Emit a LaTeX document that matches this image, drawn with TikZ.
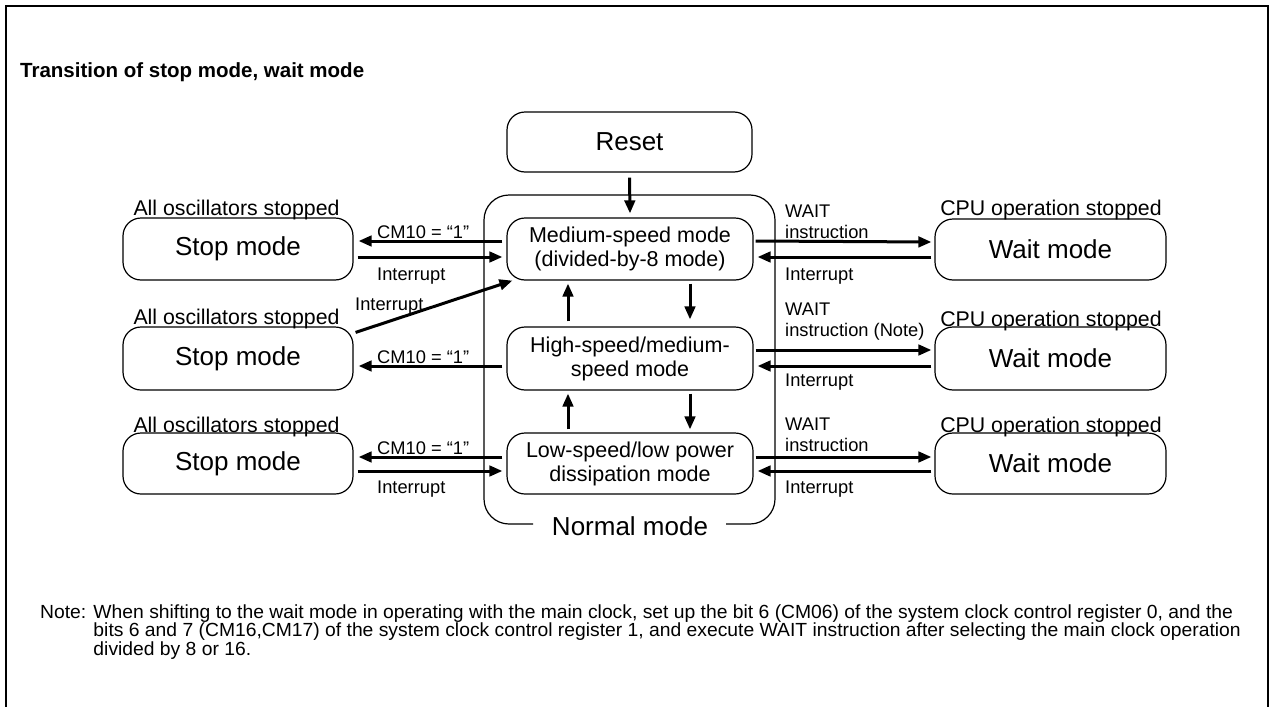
\documentclass[tikz,border=0pt]{standalone}
\usepackage{fontspec}
\setmainfont{Liberation Sans}
\usetikzlibrary{arrows.meta}
\begin{document}
\begin{tikzpicture}[x=1pt,y=-1pt,
  bigbox/.style={draw, line width=1.2pt, rounded corners=18pt, inner sep=0pt,
    font=\fontsize{26}{30}\selectfont},
  modebox/.style={bigbox, align=center, font=\fontsize{21.5}{24}\selectfont,
    minimum width=246pt},
  stopbox/.style={bigbox, minimum width=230pt, minimum height=62pt},
  waitbox/.style={bigbox, minimum width=231pt, minimum height=61pt},
  arr/.style={line width=3pt, -{Triangle[length=13pt,width=10.5pt]}},
  lbl/.style={inner sep=0pt, font=\fontsize{18.3}{20.5}\selectfont, align=left},
  caption/.style={inner sep=0pt, anchor=base, font=\fontsize{21.3}{24}\selectfont}]

% page and frame
\fill[white] (0,0) rectangle (1270,707);
\useasboundingbox (0,0) rectangle (1270,707);
\draw[line width=2pt] (6,707) -- (6,6) -- (1267.5,6) -- (1267.5,707);

% title
\node[anchor=base west, inner sep=0pt, font=\bfseries\fontsize{20.5}{24}\selectfont]
  (title) at (20,77) {Transition of stop mode, wait mode};

% normal-mode frame with its caption in the gap
\draw[line width=1.2pt, rounded corners=25pt]
  (533,524) -- (484,524) -- (484,195) -- (775,195) -- (775,524) -- (726,524);
\node[anchor=base, inner sep=0pt, font=\fontsize{26}{30}\selectfont]
  (normal) at (630,535) {Normal mode};

% central column
\node[bigbox, minimum width=245pt, minimum height=60pt] (reset) at (629.5,142) {Reset};
\node[modebox, minimum height=62pt] (med) at (630,249)
  {Medium-speed mode\\(divided-by-8 mode)};
\node[modebox, minimum height=63pt] (high) at (630,358.5)
  {High-speed/medium-\\speed mode};
\node[modebox, minimum height=61pt] (low) at (630,463.5)
  {Low-speed/low power\\dissipation mode};

% stop modes
\node[stopbox] (stop1) at (238,249) {Stop mode};
\node[stopbox, minimum height=63pt] (stop2) at (238,358.5) {Stop mode};
\node[stopbox, minimum height=61pt] (stop3) at (238,463.5) {Stop mode};
\node[caption] (sc1) at (236.5,215) {All oscillators stopped};
\node[caption] (sc2) at (236.5,324) {All oscillators stopped};
\node[caption] (sc3) at (236.5,432) {All oscillators stopped};

% wait modes
\node[waitbox] (wait1) at (1050.5,249.5) {Wait mode};
\node[waitbox, minimum height=63pt] (wait2) at (1050.5,358.5) {Wait mode};
\node[waitbox] (wait3) at (1050.5,463.5) {Wait mode};
\node[caption] (wc1) at (1051,215) {CPU operation stopped};
\node[caption] (wc2) at (1051,326) {CPU operation stopped};
\node[caption] (wc3) at (1051,432) {CPU operation stopped};

% vertical transitions
\draw[arr] ([yshift=-5pt]reset.south) -- ([yshift=4pt]med.north);
\draw[arr] ([xshift=-62pt,yshift=5pt]high.north) -- ([xshift=-62pt,yshift=-3pt]med.south);
\draw[arr] ([xshift=60pt,yshift=-3pt]med.south) -- ([xshift=60pt,yshift=7pt]high.north);
\draw[arr] ([xshift=-62pt,yshift=3pt]low.north) -- ([xshift=-62pt,yshift=-3pt]high.south);
\draw[arr] ([xshift=60pt,yshift=-3pt]high.south) -- ([xshift=60pt,yshift=3pt]low.north);

% stop transitions
\draw[arr] ([xshift=-4pt,yshift=8pt]med.west) -- ([xshift=5pt,yshift=8pt]stop1.east);
\draw[arr] ([xshift=4pt,yshift=-8pt]stop1.east) -- ([xshift=-4pt,yshift=-8pt]med.west);
\draw[arr] ([xshift=-4pt,yshift=-7.5pt]high.west) -- ([xshift=5pt,yshift=-7.5pt]stop2.east);
\draw[arr] ([xshift=2pt,yshift=-6pt]stop2.north east) -- ([xshift=6pt]med.south west);
\draw[arr] ([xshift=-4pt,yshift=6.5pt]low.west) -- ([xshift=5pt,yshift=6.5pt]stop3.east);
\draw[arr] ([xshift=4pt,yshift=-7.5pt]stop3.east) -- ([xshift=-4pt,yshift=-7.5pt]low.west);

\node[lbl, anchor=base west] (l1a) at (377,238.5) {CM10 = “1”};
\node[lbl, anchor=base west] (l1b) at (377,280) {Interrupt};
\node[lbl, anchor=base west] (l2a) at (377,363.5) {CM10 = “1”};
\node[lbl, anchor=base west] (l2b) at (355,310) {Interrupt};
\node[lbl, anchor=base west] (l3a) at (377,454.5) {CM10 = “1”};
\node[lbl, anchor=base west] (l3b) at (377,493) {Interrupt};

% wait transitions
\draw[arr] ([xshift=2pt,yshift=8pt]med.east) -- ([xshift=-3pt,yshift=7.5pt]wait1.west);
\draw[arr] ([xshift=-3pt,yshift=-7.5pt]wait1.west) -- ([xshift=4pt,yshift=-8pt]med.east);
\draw[arr] ([xshift=2pt,yshift=8.5pt]high.east) -- ([xshift=-3pt,yshift=8.5pt]wait2.west);
\draw[arr] ([xshift=-3pt,yshift=-7.5pt]wait2.west) -- ([xshift=4pt,yshift=-7.5pt]high.east);
\draw[arr] ([xshift=2pt,yshift=6.5pt]low.east) -- ([xshift=-3pt,yshift=6.5pt]wait3.west);
\draw[arr] ([xshift=-3pt,yshift=-7.5pt]wait3.west) -- ([xshift=4pt,yshift=-7.5pt]low.east);

\node[lbl, anchor=north west] (r1a) at (785,205) {WAIT\\instruction};
\node[lbl, anchor=base west] (r1b) at (785,280) {Interrupt};
\node[lbl, anchor=north west] (r2a) at (785,303) {WAIT\\instruction (Note)};
\node[lbl, anchor=base west] (r2b) at (785,386) {Interrupt};
\node[lbl, anchor=north west] (r3a) at (785,418) {WAIT\\instruction};
\node[lbl, anchor=base west] (r3b) at (785,493) {Interrupt};

% footnote
\node[anchor=base west, inner sep=0pt, xscale=1.016, font=\fontsize{19}{16.5}\selectfont]
  (note) at (40,618) {Note: \begin{tabular}[t]{@{}l@{}}When shifting to the wait mode in operating with the main clock, set up the bit 6 (CM06) of the system clock control register 0, and the\\
bits 6 and 7 (CM16,CM17) of the system clock control register 1, and execute WAIT instruction after selecting the main clock operation\\
divided by 8 or 16.\end{tabular}};
\end{tikzpicture}
\end{document}
